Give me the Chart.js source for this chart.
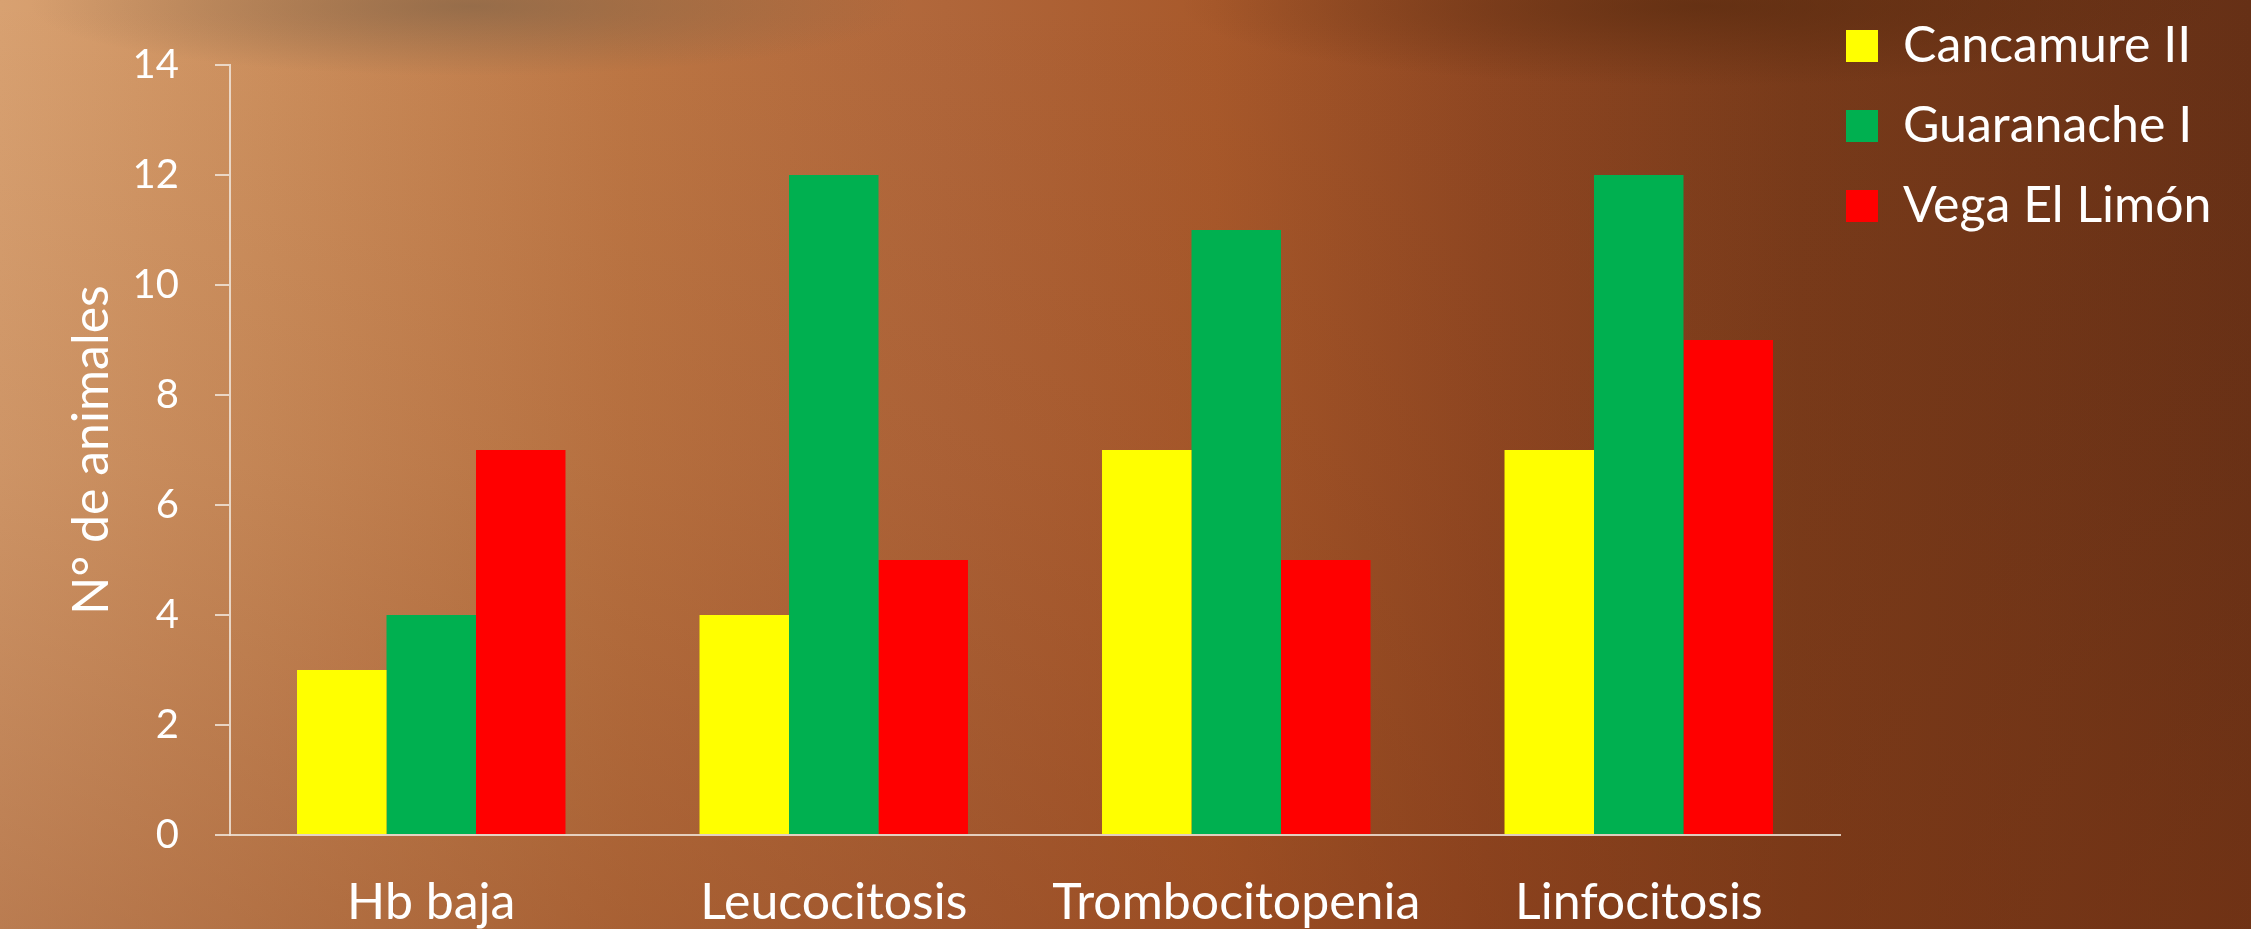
<!DOCTYPE html>
<html>
<head>
<meta charset="utf-8">
<script src="https://cdn.jsdelivr.net/npm/chart.js@4.4.1/dist/chart.umd.min.js"></script>
<style>
  html, body { margin: 0; padding: 0; width: 2251px; height: 929px; overflow: hidden; }
  body {
    background:
      radial-gradient(ellipse 440px 70px at 470px 6px, rgba(120,95,70,0.6), rgba(120,95,70,0) 100%),
      radial-gradient(ellipse 520px 80px at 1700px 6px, rgba(80,38,12,0.55), rgba(80,38,12,0) 100%),
      linear-gradient(to bottom, rgba(130,55,20,0) 0%, rgba(130,55,20,0.12) 50%, rgba(130,55,20,0.35) 100%),
      linear-gradient(to right, #d8a171 0%, #cc8f5d 12%, #bc7644 28%, #b0663a 42%, #a8592b 54%, #8f4722 66%, #773a1a 80%, #663016 100%);
  }
  #wrap { position: absolute; left: 0; top: 0; width: 2251px; height: 929px; }
</style>
</head>
<body>
<div id="wrap"><canvas id="c" width="2251" height="929"></canvas></div>
<script>
const categories = ['Hb baja', 'Leucocitosis', 'Trombocitopenia', 'Linfocitosis'];
const seriesNames = ['Cancamure II', 'Guaranache I', 'Vega El Limón'];
const cancamure = [3, 4, 7, 7];
const guaranache = [4, 12, 11, 12];
const vegaLimon = [7, 5, 5, 9];
const seriesColors = ['#FFFF00', '#00B050', '#FF0000'];
const yTicks = [0, 2, 4, 6, 8, 10, 12, 14];
const yTitle = 'N° de animales';

const axisColor = 'rgba(240,228,216,0.85)';
const FONT = 'Lato, "Open Sans", sans-serif';

const legendShift = {
  id: 'legendShift',
  afterLayout(chart) {
    const lg = chart.legend;
    if (!lg) return;
    const dx = 1846 - (lg.left + lg.options.labels.padding);
    const dy = 21 - (lg.top + lg.options.labels.padding);
    lg.left += dx; lg.right += dx;
    lg.top += dy; lg.bottom += dy;
  }
};

const chart = new Chart(document.getElementById('c'), {
  type: 'bar',
  data: {
    labels: categories,
    datasets: [
      { label: seriesNames[0], data: cancamure, backgroundColor: seriesColors[0], borderWidth: 0 },
      { label: seriesNames[1], data: guaranache, backgroundColor: seriesColors[1], borderWidth: 0 },
      { label: seriesNames[2], data: vegaLimon, backgroundColor: seriesColors[2], borderWidth: 0 }
    ]
  },
  options: {
    responsive: false,
    animation: false,
    events: [],
    datasets: { bar: { barPercentage: 1.0, categoryPercentage: 0.667 } },
    layout: { padding: { top: 65, right: 10, bottom: 0, left: 0 } },
    plugins: {
      tooltip: { enabled: false },
      legend: {
        position: 'right',
        align: 'start',
        labels: {
          color: '#ffffff',
          font: { family: FONT, size: 50 },
          boxWidth: 32,
          boxHeight: 32,
          padding: 30
        }
      }
    },
    scales: {
      x: {
        grid: { display: false, drawTicks: false },
        border: { display: true, color: axisColor, width: 2 },
        ticks: { color: '#ffffff', font: { family: FONT, size: 50 }, padding: 38, maxRotation: 0, autoSkip: false },
        afterFit(s) { s.height = 94; }
      },
      y: {
        min: 0, max: 14,
        afterBuildTicks(s) { s.ticks = yTicks.map(v => ({ value: v })); },
        grid: { drawOnChartArea: false, drawTicks: true, tickLength: 15, color: axisColor, lineWidth: 2 },
        border: { display: true, color: axisColor, width: 2 },
        ticks: { color: '#ffffff', font: { family: FONT, size: 40 }, padding: 36 },
        title: { display: true, text: yTitle, color: '#ffffff', font: { family: FONT, size: 50 }, padding: { top: 62, bottom: 0 } },
        afterFit(s) { s.width = 230; }
      }
    }
  },
  plugins: [legendShift]
});

// make the plot area end at x = 1840, as in the reference
const lw = chart.legend.width;
chart.options.layout.padding.right = Math.max(0, 2251 - 1840 - lw);
chart.update();
</script>
</body>
</html>
